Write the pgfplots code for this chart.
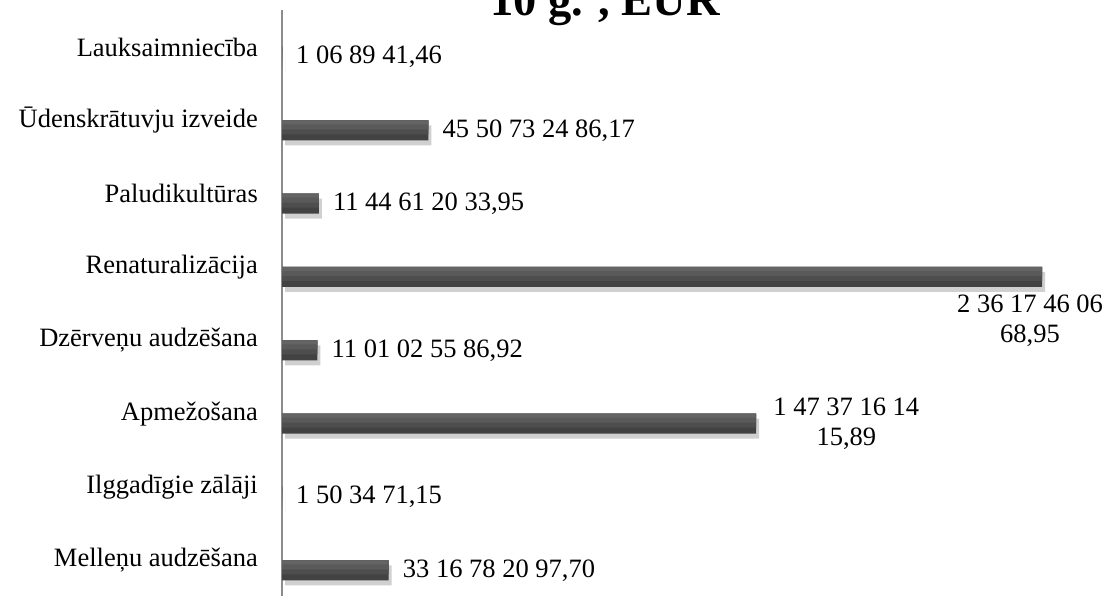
\documentclass[border=0pt]{standalone}
\usepackage{fontspec}
\setmainfont{Liberation Serif}
\usepackage{pgfplots}
\usepackage{pgfplotstable}
\pgfplotsset{compat=1.18}

\definecolor{barA}{RGB}{66,66,66}
\definecolor{barB}{RGB}{78,78,78}
\definecolor{barC}{RGB}{90,90,90}
\definecolor{barD}{RGB}{100,100,100}
\definecolor{barshadow}{RGB}{208,208,208}
\definecolor{axisgray}{RGB}{140,140,140}

% y = category row (0 at bottom), val = EUR, lab = label as printed
\pgfplotstableread[col sep=semicolon]{
y;val;lab
7;1068941.46;1 06 89 41,46
6;4550732486.17;45 50 73 24 86,17
5;1144612033.95;11 44 61 20 33,95
4;23617460668.95;
3;1101025586.92;11 01 02 55 86,92
2;14737161415.89;
1;1503471.15;1 50 34 71,15
0;3316782097.70;33 16 78 20 97,70
}\costs

\newcommand{\lbl}{\fontsize{26.5}{30}\selectfont}

\begin{document}
\begin{tikzpicture}
\begin{axis}[
    at={(282pt,-2pt)}, anchor=south west,
    scale only axis,
    width=804.5pt, height=586.7pt,
    xmin=0, xmax=2.5e10,
    ymin=-0.5, ymax=7.5,
    axis x line=none,
    axis y line*=left,
    y axis line style={axisgray, line width=1.4pt, -},
    ytick={0,...,7},
    yticklabels={Melleņu audzēšana, Ilggadīgie zālāji, Apmežošana,
        Dzērveņu audzēšana, Renaturalizācija, Paludikultūras,
        Ūdenskrātuvju izveide, Lauksaimniecība},
    major tick length=0pt,
    yticklabel style={font=\lbl, inner sep=0pt, xshift=-24pt},
    clip=false,
    every axis plot/.append style={xbar, draw=none},
]

% shadow under the bars
\addplot[bar width=20pt, bar shift=-15pt, fill=barshadow, xshift=3pt]
    table[x=val, y=y] {\costs};

% bars, darker at the bottom
\addplot[bar width=20pt, bar shift=-10pt, fill=barA] table[x=val, y=y] {\costs};
\addplot[bar width=14pt, bar shift=-7pt, fill=barB] table[x=val, y=y] {\costs};
\addplot[bar width=9pt, bar shift=-4.5pt, fill=barC] table[x=val, y=y] {\costs};
\addplot[bar width=4pt, bar shift=-2pt, fill=barD,
    point meta=explicit symbolic,
    nodes near coords,
    every node near coord/.append style={font=\lbl, anchor=west,
        inner sep=0pt, xshift=14pt, yshift=-10pt, text=black}]
    table[x=val, y=y, meta=lab] {\costs};

% wrapped labels
\addplot[bar width=20pt, bar shift=-10pt, fill=none,
    nodes near coords={2 36 17 46 06\\68,95},
    every node near coord/.append style={font=\lbl, anchor=north,
        align=center, inner sep=0pt, xshift=-12pt, yshift=-28pt, text=black}]
    coordinates {(23617460668.95,4)};
\addplot[bar width=20pt, bar shift=-10pt, fill=none,
    nodes near coords={1 47 37 16 14\\15,89},
    every node near coord/.append style={font=\lbl, anchor=west,
        align=center, inner sep=0pt, xshift=17pt, yshift=-10pt, text=black}]
    coordinates {(14737161415.89,2)};
\end{axis}

\node[anchor=base, font=\bfseries\fontsize{46.5}{52}\selectfont]
    at (605pt,579pt) {10 g. , EUR};

\pgfresetboundingbox
\clip (0,0) rectangle (1110pt,595pt);
\useasboundingbox (0,0) rectangle (1110pt,595pt);
\end{tikzpicture}
\end{document}
